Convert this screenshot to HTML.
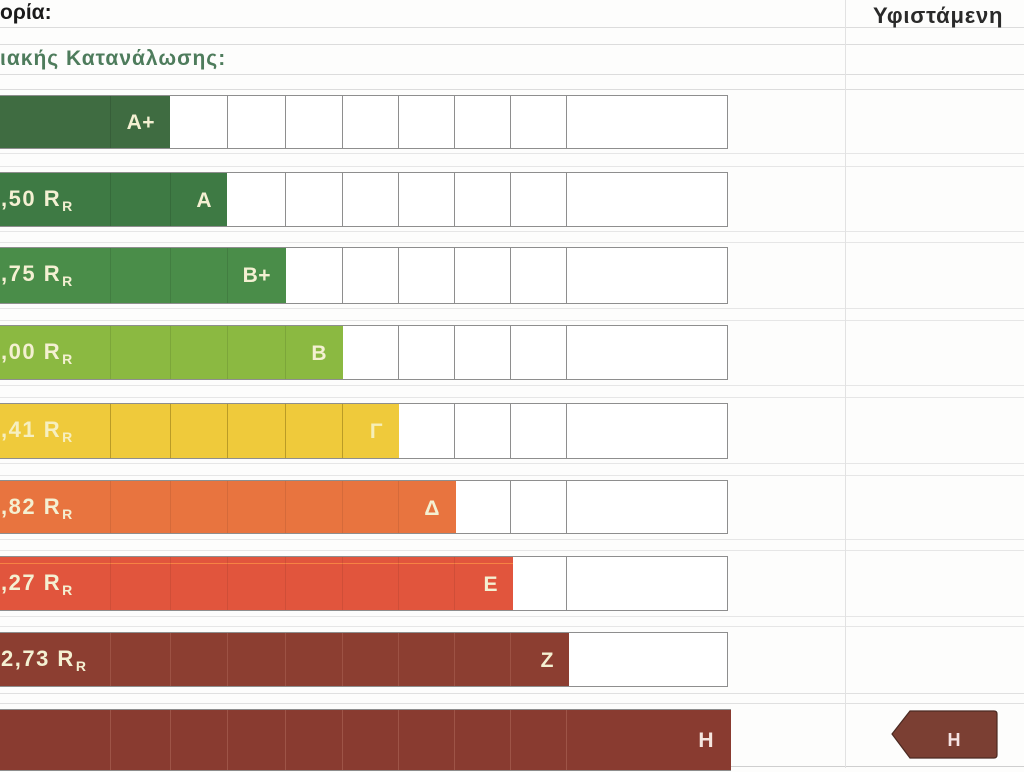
<!DOCTYPE html>
<html>
<head>
<meta charset="utf-8">
<style>
  html,body{margin:0;padding:0;}
  body{width:1024px;height:768px;overflow:hidden;background:#fdfdfc;position:relative;
       font-family:"Liberation Sans","Noto Sans CJK SC",sans-serif;}
  .abs{position:absolute;}
  .hl{position:absolute;left:0;width:1024px;height:1px;background:#dcdcdc;}
  .row{position:absolute;left:-2px;width:730px;box-sizing:border-box;border:1px solid #8e8e8e;border-left:none;background:#fff;}
  .bar{position:absolute;left:0;top:0;bottom:0;}
  .vl{position:absolute;top:0;bottom:0;width:1px;}
  .lab{position:absolute;font-weight:bold;font-size:21px;color:#f4f0d2;text-align:right;white-space:nowrap;letter-spacing:0.5px;}
  .val{position:absolute;left:1px;font-weight:bold;font-size:22px;color:#f4f0d2;white-space:nowrap;letter-spacing:1.5px;}
  .val sub{font-size:14px;vertical-align:-5px;letter-spacing:0;margin-left:1px;}
</style>
</head>
<body>

<!-- faint table lines -->
<div class="hl" style="top:27px"></div>
<div class="hl" style="top:44px"></div>
<div class="hl" style="top:74px"></div>
<div class="hl" style="top:89px"></div>
<div class="hl" style="top:153px;background:#e6e6e6"></div>
<div class="hl" style="top:166px;background:#e6e6e6"></div>
<div class="hl" style="top:231px;background:#e6e6e6"></div>
<div class="hl" style="top:242px;background:#e6e6e6"></div>
<div class="hl" style="top:308px;background:#e6e6e6"></div>
<div class="hl" style="top:320px;background:#e6e6e6"></div>
<div class="hl" style="top:385px;background:#e6e6e6"></div>
<div class="hl" style="top:397px;background:#e6e6e6"></div>
<div class="hl" style="top:463px;background:#e6e6e6"></div>
<div class="hl" style="top:475px;background:#e6e6e6"></div>
<div class="hl" style="top:539px;background:#e6e6e6"></div>
<div class="hl" style="top:550px;background:#e6e6e6"></div>
<div class="hl" style="top:616px;background:#e6e6e6"></div>
<div class="hl" style="top:626px;background:#e6e6e6"></div>
<div class="hl" style="top:693px;background:#e0e0e0"></div>
<div class="hl" style="top:703px;background:#e0e0e0"></div>
<div class="hl" style="top:766px;background:#cfcfcf"></div>
<div class="abs" style="left:845px;top:0;width:1px;height:768px;background:#e2e2e2"></div>

<!-- header texts -->
<div class="abs" style="left:0;top:0;font-size:21px;font-weight:bold;color:#1a1a1a;line-height:26px;">ορία:</div>
<div class="abs" style="left:0;top:46px;font-size:21px;font-weight:bold;color:#4e7c5c;line-height:26px;letter-spacing:1px;">ιακής Κατανάλωσης:</div>
<div class="abs" style="left:873px;top:2px;font-size:22px;font-weight:bold;color:#2a2a2a;line-height:28px;letter-spacing:0.8px;">Υφιστάμενη</div>

<!-- Row A+ -->
<div class="row" style="top:95px;height:54px;">
  <div class="bar" style="width:172px;background:#3f6c41"></div>
  <div class="vl" style="left:112px;background:rgba(0,0,0,0.12)"></div>
  <div class="vl" style="left:229px;background:#8e8e8e"></div>
  <div class="vl" style="left:287px;background:#8e8e8e"></div>
  <div class="vl" style="left:344px;background:#8e8e8e"></div>
  <div class="vl" style="left:400px;background:#8e8e8e"></div>
  <div class="vl" style="left:456px;background:#8e8e8e"></div>
  <div class="vl" style="left:512px;background:#8e8e8e"></div>
  <div class="vl" style="left:568px;background:#8e8e8e"></div>
  <div class="lab" style="right:572px;top:0;line-height:54px;">A+</div>
</div>

<!-- Row A -->
<div class="row" style="top:172px;height:55px;">
  <div class="bar" style="width:229px;background:#3e7a44"></div>
  <div class="vl" style="left:112px;background:rgba(0,0,0,0.12)"></div>
  <div class="vl" style="left:172px;background:rgba(0,0,0,0.12)"></div>
  <div class="vl" style="left:287px;background:#8e8e8e"></div>
  <div class="vl" style="left:344px;background:#8e8e8e"></div>
  <div class="vl" style="left:400px;background:#8e8e8e"></div>
  <div class="vl" style="left:456px;background:#8e8e8e"></div>
  <div class="vl" style="left:512px;background:#8e8e8e"></div>
  <div class="vl" style="left:568px;background:#8e8e8e"></div>
  <div class="lab" style="right:515px;top:0;line-height:55px;">A</div>
</div>
<div class="val" style="top:186px;">,50 R<sub>R</sub></div>

<!-- Row B+ -->
<div class="row" style="top:247px;height:57px;">
  <div class="bar" style="width:288px;background:#4a8d49"></div>
  <div class="vl" style="left:112px;background:rgba(0,0,0,0.10)"></div>
  <div class="vl" style="left:172px;background:rgba(0,0,0,0.10)"></div>
  <div class="vl" style="left:229px;background:rgba(0,0,0,0.10)"></div>
  <div class="vl" style="left:344px;background:#8e8e8e"></div>
  <div class="vl" style="left:400px;background:#8e8e8e"></div>
  <div class="vl" style="left:456px;background:#8e8e8e"></div>
  <div class="vl" style="left:512px;background:#8e8e8e"></div>
  <div class="vl" style="left:568px;background:#8e8e8e"></div>
  <div class="lab" style="right:456px;top:0;line-height:55px;">B+</div>
</div>
<div class="val" style="top:261px;">,75 R<sub>R</sub></div>

<!-- Row B -->
<div class="row" style="top:325px;height:55px;">
  <div class="bar" style="width:345px;background:#8bb941"></div>
  <div class="vl" style="left:112px;background:rgba(0,0,0,0.10)"></div>
  <div class="vl" style="left:172px;background:rgba(0,0,0,0.10)"></div>
  <div class="vl" style="left:229px;background:rgba(0,0,0,0.10)"></div>
  <div class="vl" style="left:287px;background:rgba(0,0,0,0.10)"></div>
  <div class="vl" style="left:400px;background:#8e8e8e"></div>
  <div class="vl" style="left:456px;background:#8e8e8e"></div>
  <div class="vl" style="left:512px;background:#8e8e8e"></div>
  <div class="vl" style="left:568px;background:#8e8e8e"></div>
  <div class="lab" style="right:400px;top:0;line-height:55px;">B</div>
</div>
<div class="val" style="top:339px;">,00 R<sub>R</sub></div>

<!-- Row Γ -->
<div class="row" style="top:403px;height:56px;">
  <div class="bar" style="width:401px;background:#efca3b"></div>
  <div class="vl" style="left:112px;background:rgba(90,70,0,0.35)"></div>
  <div class="vl" style="left:172px;background:rgba(90,70,0,0.35)"></div>
  <div class="vl" style="left:229px;background:rgba(90,70,0,0.35)"></div>
  <div class="vl" style="left:287px;background:rgba(90,70,0,0.35)"></div>
  <div class="vl" style="left:344px;background:rgba(90,70,0,0.35)"></div>
  <div class="vl" style="left:456px;background:#8e8e8e"></div>
  <div class="vl" style="left:512px;background:#8e8e8e"></div>
  <div class="vl" style="left:568px;background:#8e8e8e"></div>
  <div class="lab" style="right:344px;top:0;line-height:56px;color:#f6efb8;">Γ</div>
</div>
<div class="val" style="top:417px;color:#f6efc0;">,41 R<sub>R</sub></div>

<!-- Row Δ -->
<div class="row" style="top:480px;height:54px;">
  <div class="bar" style="width:458px;background:#e8743f"></div>
  <div class="vl" style="left:112px;background:rgba(0,0,0,0.08)"></div>
  <div class="vl" style="left:172px;background:rgba(0,0,0,0.08)"></div>
  <div class="vl" style="left:229px;background:rgba(0,0,0,0.08)"></div>
  <div class="vl" style="left:287px;background:rgba(0,0,0,0.08)"></div>
  <div class="vl" style="left:344px;background:rgba(0,0,0,0.08)"></div>
  <div class="vl" style="left:400px;background:rgba(0,0,0,0.08)"></div>
  <div class="vl" style="left:512px;background:#8e8e8e"></div>
  <div class="vl" style="left:568px;background:#8e8e8e"></div>
  <div class="lab" style="right:287px;top:0;line-height:56px;">Δ</div>
</div>
<div class="val" style="top:494px;">,82 R<sub>R</sub></div>

<!-- Row E -->
<div class="row" style="top:556px;height:55px;">
  <div class="bar" style="width:515px;background:#e1553d"></div>
  <div class="abs" style="left:0;top:6px;width:515px;height:1px;background:rgba(255,150,70,0.7)"></div>
  <div class="vl" style="left:112px;background:rgba(0,0,0,0.08)"></div>
  <div class="vl" style="left:172px;background:rgba(0,0,0,0.08)"></div>
  <div class="vl" style="left:229px;background:rgba(0,0,0,0.08)"></div>
  <div class="vl" style="left:287px;background:rgba(0,0,0,0.08)"></div>
  <div class="vl" style="left:344px;background:rgba(0,0,0,0.08)"></div>
  <div class="vl" style="left:400px;background:rgba(0,0,0,0.08)"></div>
  <div class="vl" style="left:456px;background:rgba(0,0,0,0.08)"></div>
  <div class="vl" style="left:568px;background:#8e8e8e"></div>
  <div class="lab" style="right:229px;top:0;line-height:56px;">E</div>
</div>
<div class="val" style="top:570px;">,27 R<sub>R</sub></div>

<!-- Row Z -->
<div class="row" style="top:632px;height:55px;">
  <div class="bar" style="width:571px;background:#8c3e31"></div>
  <div class="vl" style="left:112px;background:rgba(255,200,180,0.15)"></div>
  <div class="vl" style="left:172px;background:rgba(255,200,180,0.15)"></div>
  <div class="vl" style="left:229px;background:rgba(255,200,180,0.15)"></div>
  <div class="vl" style="left:287px;background:rgba(255,200,180,0.15)"></div>
  <div class="vl" style="left:344px;background:rgba(255,200,180,0.15)"></div>
  <div class="vl" style="left:400px;background:rgba(255,200,180,0.15)"></div>
  <div class="vl" style="left:456px;background:rgba(255,200,180,0.15)"></div>
  <div class="vl" style="left:512px;background:rgba(255,200,180,0.15)"></div>
  <div class="lab" style="right:173px;top:0;line-height:56px;">Z</div>
</div>
<div class="val" style="top:646px;">2,73 R<sub>R</sub></div>

<!-- Row H -->
<div class="row" style="top:709px;height:62px;width:733px;border-right:none;">
  <div class="bar" style="width:733px;background:#893b30"></div>
  <div class="vl" style="left:112px;background:rgba(255,200,180,0.18)"></div>
  <div class="vl" style="left:172px;background:rgba(255,200,180,0.18)"></div>
  <div class="vl" style="left:229px;background:rgba(255,200,180,0.18)"></div>
  <div class="vl" style="left:287px;background:rgba(255,200,180,0.18)"></div>
  <div class="vl" style="left:344px;background:rgba(255,200,180,0.18)"></div>
  <div class="vl" style="left:400px;background:rgba(255,200,180,0.18)"></div>
  <div class="vl" style="left:456px;background:rgba(255,200,180,0.18)"></div>
  <div class="vl" style="left:512px;background:rgba(255,200,180,0.18)"></div>
  <div class="vl" style="left:568px;background:rgba(255,200,180,0.18)"></div>
  <div class="lab" style="right:17px;top:0;line-height:62px;color:#f5e6e0;">H</div>
</div>

<!-- Current rating arrow -->
<svg class="abs" style="left:0;top:0" width="1024" height="768">
  <path d="M892,734 L910,711 L994,711 Q997,711 997,714 L997,755 Q997,758 994,758 L910,758 Z" fill="#7b3f33" stroke="#4b2a22" stroke-width="1.2"/>
  <text x="954" y="741" text-anchor="middle" dominant-baseline="middle" font-family="Liberation Sans, sans-serif" font-weight="bold" font-size="18" fill="#f6e4e4">H</text>
</svg>

</body>
</html>
